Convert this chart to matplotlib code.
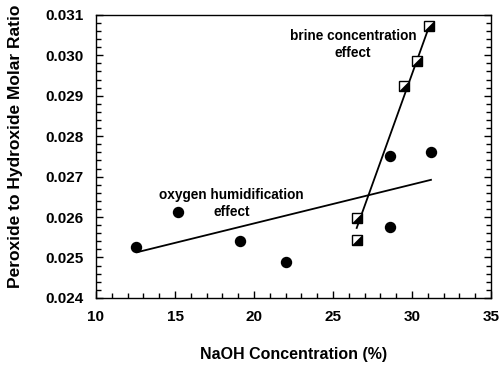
import numpy as np
import matplotlib
matplotlib.use("Agg")
import matplotlib.pyplot as plt
from matplotlib.ticker import MultipleLocator, FormatStrFormatter

# oxygen humidification data (filled circles)
oxy_naoh = [12.5, 15.2, 19.1, 22.0, 28.6, 28.6, 31.2]
oxy_ratio = [0.02526, 0.02613, 0.02541, 0.02489, 0.02575, 0.02750, 0.02760]
oxy_fit_x = [12.6, 31.2]
oxy_fit_y = [0.02513, 0.02692]

# brine concentration data (half-filled squares)
brine_naoh = [26.55, 26.55, 29.5, 30.3, 31.1]
brine_ratio = [0.02542, 0.02597, 0.02923, 0.02985, 0.03073]
brine_fit_x = [26.5, 31.1]
brine_fit_y = [0.02573, 0.03073]

plt.rcParams["font.family"] = ["Liberation Sans", "DejaVu Sans"]
plt.rcParams["font.weight"] = "bold"

fig = plt.figure(figsize=(5.0, 3.71), dpi=100)
ax = fig.add_axes([0.192, 0.197, 0.79, 0.763])

ax.plot(oxy_fit_x, oxy_fit_y, color="black", linewidth=1.3, zorder=2)
ax.plot(brine_fit_x, brine_fit_y, color="black", linewidth=1.3, zorder=2)

ax.plot(oxy_naoh, oxy_ratio, "o", color="black", markersize=7.2, zorder=3)

# half-filled squares: white square + black lower-right triangle
ax.plot(brine_naoh, brine_ratio, "s", markerfacecolor="white",
        markeredgecolor="black", markersize=7.2, markeredgewidth=1.0, zorder=3)
tri = [(-1, -1), (1, -1), (1, 1), (-1, -1)]
ax.plot(brine_naoh, brine_ratio, marker=tri, linestyle="none",
        color="black", markersize=7.2, markeredgewidth=0.5, zorder=4)

ax.text(18.58, 0.026334, "oxygen humidification\neffect", ha="center",
        va="center", fontsize=9.8, fontweight="bold", linespacing=1.3)
ax.text(26.27, 0.030275, "brine concentration\neffect", ha="center",
        va="center", fontsize=9.8, fontweight="bold", linespacing=1.3)

ax.set_xlim(10, 35)
ax.set_ylim(0.024, 0.031)
ax.xaxis.set_major_locator(MultipleLocator(5))
ax.xaxis.set_minor_locator(MultipleLocator(1))
ax.yaxis.set_major_locator(MultipleLocator(0.001))
ax.yaxis.set_minor_locator(MultipleLocator(0.0002))
ax.yaxis.set_major_formatter(FormatStrFormatter("%.3f"))

ax.tick_params(which="both", direction="in", left=True, right=True,
               bottom=True, top=False, labelsize=11, width=1.0)
ax.tick_params(which="major", length=5.2, pad=9)
ax.tick_params(which="minor", length=3.4)
for lab in ax.get_xticklabels() + ax.get_yticklabels():
    lab.set_fontweight("bold")
for sp in ax.spines.values():
    sp.set_linewidth(1.0)

ax.set_xlabel("NaOH Concentration (%)", fontsize=11.5, fontweight="bold",
              labelpad=16)
ax.set_ylabel("Peroxide to Hydroxide Molar Ratio", fontsize=12.5,
              fontweight="bold", labelpad=16, y=0.535)

fig.savefig("out.png", dpi=100)
